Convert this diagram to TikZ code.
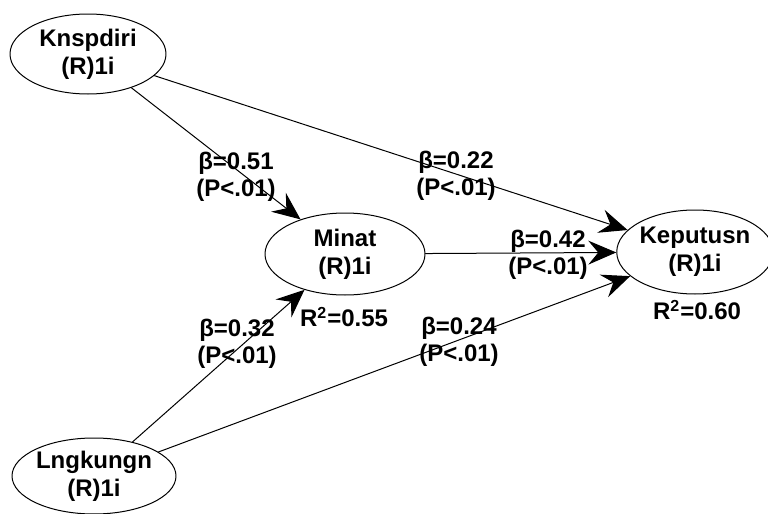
\documentclass[tikz,border=0pt]{standalone}
\usepackage{fontspec}
\setmainfont{Liberation Sans}
\usepackage{tikz}
\usetikzlibrary{arrows.meta}
\usetikzlibrary{shapes.geometric}

\begin{document}
\begin{tikzpicture}[line cap=round,line join=round,>={Stealth[length=14pt,width=12pt,inset=5pt]},x=0.5pt,y=-0.5pt,
    latent/.style={ellipse,draw,line width=0.5pt,inner sep=0pt,align=center,font=\fontsize{12}{14}\selectfont\bfseries},
    coef/.style={align=center,inner sep=0pt,font=\fontsize{12}{13.5}\selectfont\bfseries},
    path/.style={->,line width=0.5pt}]
        \useasboundingbox (0,0) rectangle (768,514);
        % constructs
        \node[latent,minimum width=78pt,minimum height=40pt] (knsp) at (88,54) {Knspdiri\\(R)1i};
        \node[latent,minimum width=80pt,minimum height=41pt] (minat) at (345,254) {Minat\\(R)1i};
        \node[latent,minimum width=72pt,minimum height=42pt] (keput) at (695,252) {Keputusn\\(R)1i};
        \node[latent,minimum width=79pt,minimum height=38pt] (lngk) at (94,476) {Lngkungn\\(R)1i};
        % paths
        \draw[path] (knsp) -- (minat);
        \draw[path] (knsp) -- (keput);
        \draw[path] (minat) -- (keput);
        \draw[path] (lngk) -- (minat);
        \draw[path] (lngk) -- (keput);
        % coefficients
        \node[coef] (c1) at (236,177) {β=0.51\\(P<.01)};
        \node[coef] (c2) at (456,176) {β=0.22\\(P<.01)};
        \node[coef] (c3) at (548,255) {β=0.42\\(P<.01)};
        \node[coef] (c4) at (237,344) {β=0.32\\(P<.01)};
        \node[coef] (c5) at (459,342) {β=0.24\\(P<.01)};
        \node[coef] (r1) at (344,317) {R\textsuperscript{2}=0.55};
        \node[coef] (r2) at (697,310) {R\textsuperscript{2}=0.60};
\end{tikzpicture}
\end{document}
